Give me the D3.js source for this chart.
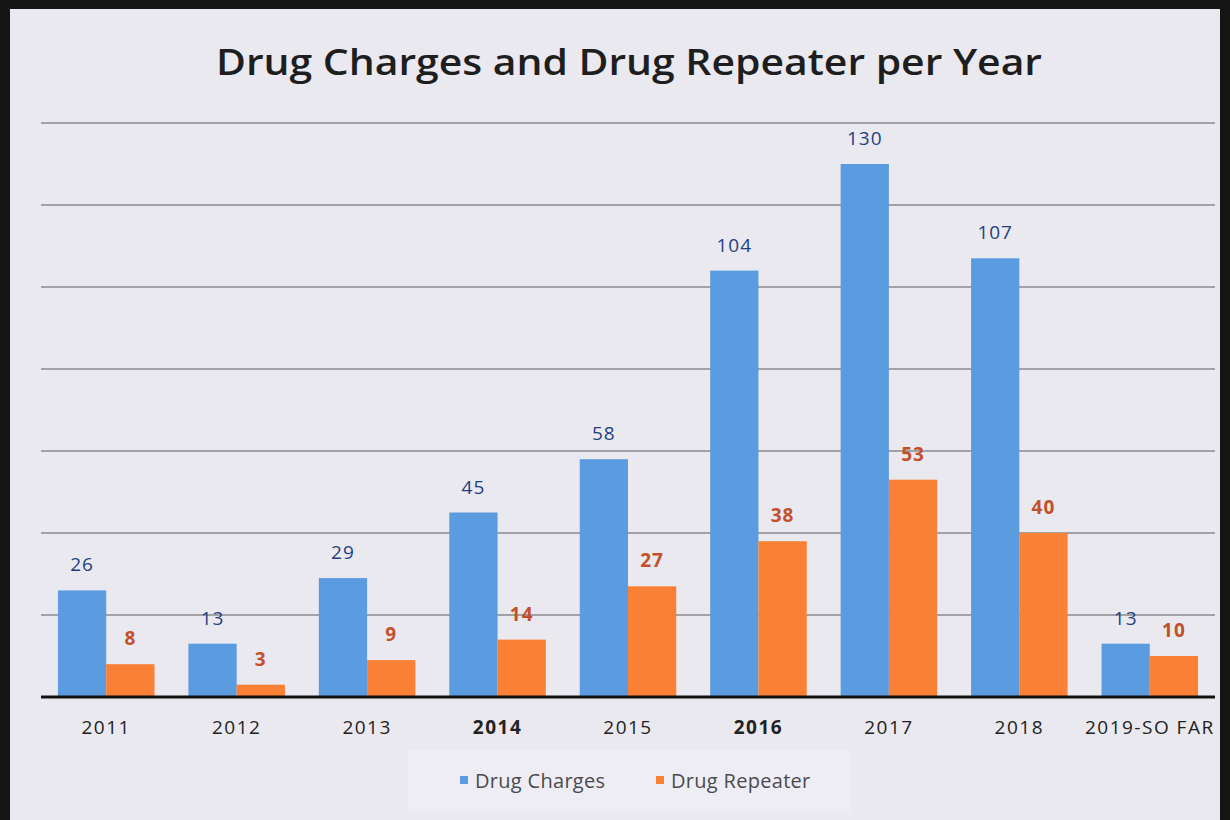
<!DOCTYPE html>
<html><head><meta charset="utf-8">
<script src="https://cdn.jsdelivr.net/npm/d3@7"></script>
<style>body{margin:0;background:#111;}svg{display:block;}</style>
</head><body>
<svg id="chart" width="1230" height="820"></svg>
<script>
const categories = ["2011","2012","2013","2014","2015","2016","2017","2018","2019-SO FAR"];
const drugCharges = [26,13,29,45,58,104,130,107,13];
const drugRepeater = [8,3,9,14,27,38,53,40,10];
const seriesNames = ["Drug Charges","Drug Repeater"];
const yTicks = [0,20,40,60,80,100,120,140];

const svg = d3.select("#chart");
const W = 1230, H = 820;
const colors = {"Drug Charges":"#5b9be0","Drug Repeater":"#f98035"};
const labelColors = {"Drug Charges":"#1f3f82","Drug Repeater":"#c2502a"};

svg.append("rect").attr("width",W).attr("height",H).attr("fill","#141414");
svg.append("rect").attr("x",10).attr("y",9).attr("width",1210).attr("height",811).attr("fill","#eae9ef");

const m = {left:41, right:1215, top:0, bottom:697};
const x = d3.scaleBand().domain(categories).range([m.left,m.right]).paddingInner(0.26).paddingOuter(0.13);
const xs = d3.scaleBand().domain(seriesNames).range([0,x.bandwidth()]);
const y = d3.scaleLinear().domain([0,140]).range([m.bottom, m.bottom - 140*4.1]);

// gridlines
svg.append("g").selectAll("line").data(yTicks.filter(d=>d>0)).join("line")
  .attr("x1",m.left).attr("x2",m.right)
  .attr("y1",d=>y(d)).attr("y2",d=>y(d))
  .attr("stroke","#8a8a8e").attr("stroke-width",1.5);

// title
svg.append("text").attr("x",629).attr("y",75).attr("text-anchor","middle")
  .attr("font-family","'Open Sans', Lato, sans-serif").attr("font-size",36).attr("font-weight",600)
  .attr("textLength",826).attr("lengthAdjust","spacingAndGlyphs")
  .attr("fill","#1e1e1e").text("Drug Charges and Drug Repeater per Year");

const data = categories.map((c,i)=>({cat:c, vals:[
  {s:"Drug Charges", v:drugCharges[i]},{s:"Drug Repeater", v:drugRepeater[i]}]}));

const g = svg.append("g").selectAll("g").data(data).join("g")
  .attr("transform",d=>`translate(${x(d.cat)},0)`);
g.selectAll("rect").data(d=>d.vals).join("rect")
  .attr("x",d=>xs(d.s)).attr("width",xs.bandwidth())
  .attr("y",d=>y(d.v)).attr("height",d=>y(0)-y(d.v))
  .attr("fill",d=>colors[d.s]);
g.selectAll("text").data(d=>d.vals).join("text")
  .attr("x",d=>xs(d.s)+xs.bandwidth()/2).attr("y",d=>y(d.v)-19)
  .attr("text-anchor","middle").attr("font-family","'Open Sans', sans-serif")
  .attr("font-size",19).attr("letter-spacing",1)
  .attr("font-weight",d=>d.s==="Drug Repeater"?"bold":"normal")
  .attr("fill",d=>labelColors[d.s]).text(d=>d.v);

// baseline axis
const xAxis = d3.axisBottom(x).tickSize(0).tickPadding(24);
const ax = svg.append("g").attr("transform",`translate(0,${y(0)})`).call(xAxis);
ax.select(".domain").attr("stroke","#111").attr("stroke-width",3).attr("d",`M${m.left},0H${m.right}`);
ax.selectAll("text").attr("font-family","'Open Sans', sans-serif").attr("font-size",19)
  .attr("letter-spacing",1.5).attr("fill","#222")
  .attr("font-weight",d=>(d==="2014"||d==="2016")?"bold":"normal");

// legend
const lg = svg.append("g");
lg.append("rect").attr("x",408).attr("y",750).attr("width",442).attr("height",62).attr("fill","#eeedf3");
const items = [{s:"Drug Charges",x:460},{s:"Drug Repeater",x:656}];
items.forEach(it=>{
  lg.append("rect").attr("x",it.x).attr("y",776).attr("width",8).attr("height",8).attr("fill",colors[it.s]);
  lg.append("text").attr("x",it.x+15).attr("y",788).attr("font-family","'Open Sans', sans-serif")
    .attr("font-size",20).attr("letter-spacing",0.3).attr("fill","#4a4a4e").text(it.s);
});
</script>
</body></html>
